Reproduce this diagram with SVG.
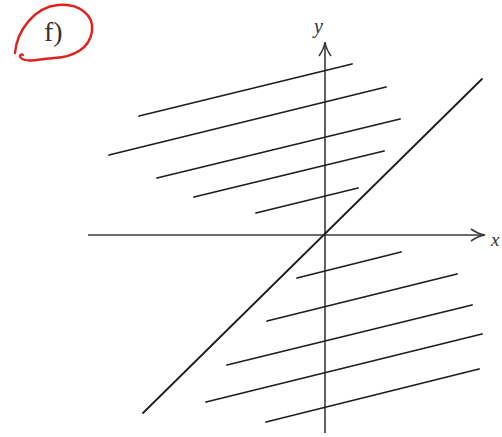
<svg xmlns="http://www.w3.org/2000/svg" width="502" height="437" viewBox="0 0 502 437">
<style>
.ax{stroke:#3a3a3a;stroke-width:1.6;fill:none}
.ln{stroke:#1e1e1e;stroke-width:1.8;fill:none;stroke-linecap:round}
.lbl{font-family:"Liberation Serif",serif;font-style:italic;fill:#333}
</style>
<rect width="502" height="437" fill="#fff"/>
<g id="label-f">
<path d="M15,53 C17,30 35,7 58,5 C79,3 94,15 92,31 C90,48 74,57 54,58 C40,59 26,63 21,58 C19,56 21,53 23,55" fill="none" stroke="#e3211c" stroke-width="2.4" stroke-linecap="round"/>
<text x="44" y="41" font-family="Liberation Serif,serif" font-size="28" fill="#333">f)</text>
</g>
<g id="axes">
<line class="ax" x1="88" y1="235" x2="484" y2="235"/>
<path class="ax" d="M471,229 Q478,234 485,235 Q478,236 471,241"/>
<line class="ax" x1="325" y1="433" x2="325" y2="43"/>
<path class="ax" d="M319,56 Q324,49 325,42 Q326,49 331,56"/>
<text class="lbl" x="491" y="246" font-size="19">x</text>
<text class="lbl" x="314" y="33" font-size="20">y</text>
</g>
<g id="connectors">
<line class="ln" x1="143" y1="413" x2="482" y2="79"/>
<line class="ln" x1="139" y1="116" x2="352" y2="64"/>
<line class="ln" x1="109" y1="155" x2="386" y2="87"/>
<line class="ln" x1="157" y1="178" x2="400" y2="119"/>
<line class="ln" x1="194" y1="197" x2="384" y2="151"/>
<line class="ln" x1="256" y1="213" x2="358" y2="188"/>
<line class="ln" x1="297" y1="278" x2="401" y2="252"/>
<line class="ln" x1="267" y1="321" x2="457" y2="274"/>
<line class="ln" x1="227" y1="365" x2="472" y2="305"/>
<line class="ln" x1="206" y1="402" x2="482" y2="334"/>
<line class="ln" x1="266" y1="422" x2="479" y2="369"/>
</g>
</svg>
